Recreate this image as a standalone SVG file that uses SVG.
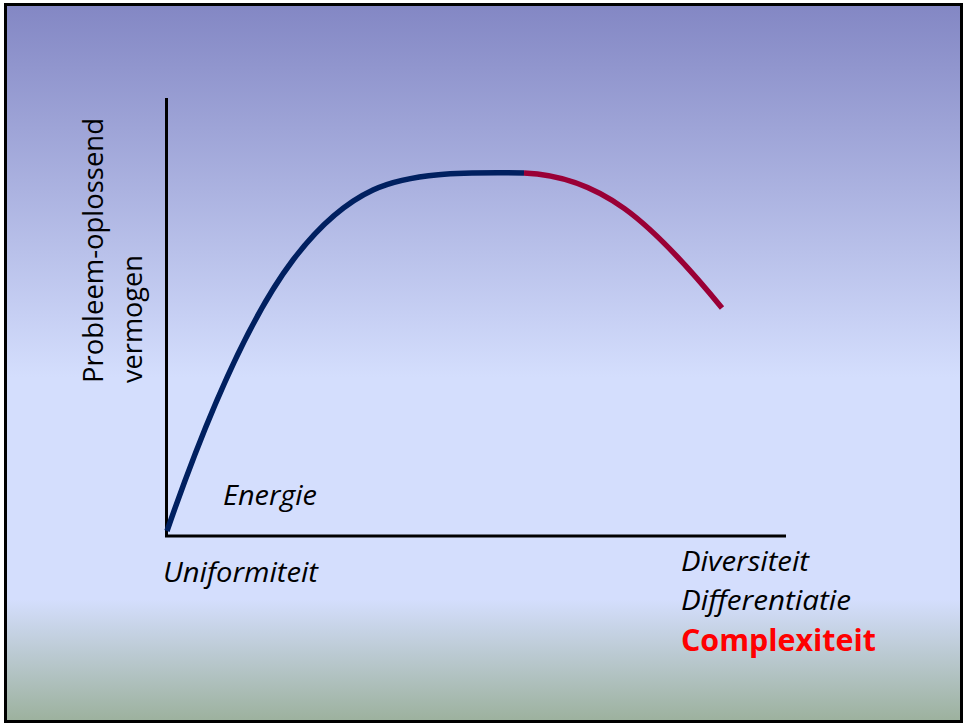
<svg xmlns="http://www.w3.org/2000/svg" width="963" height="724" viewBox="0 0 963 724">
  <defs>
    <linearGradient id="bg" x1="0" y1="0" x2="0" y2="1">
      <stop offset="0" stop-color="#8387C4"/>
      <stop offset="0.52" stop-color="#D4DEFD"/>
      <stop offset="0.83" stop-color="#D4DEFD"/>
      <stop offset="1" stop-color="#9CB19D"/>
    </linearGradient>
  </defs>
  <style>
    .axis { stroke: #000; stroke-width: 3; fill: none; }
    .curve { fill: none; stroke-width: 5.5; }
    .lbl { font-family: "Open Sans", "Liberation Sans", sans-serif; font-size: 28px; fill: #000; }
    .it { font-style: italic; }
  </style>
  <rect id="frame" x="5.5" y="4.5" width="956" height="717" fill="url(#bg)" stroke="#000" stroke-width="3"/>
  <g id="axes">
    <line class="axis" x1="166.5" y1="98" x2="166.5" y2="536"/>
    <line class="axis" x1="165" y1="536" x2="786" y2="536"/>
  </g>
  <g id="connectors">
    <path id="curve-blue" class="curve" stroke="#002060" d="M167,531 C195,450 240,330 293,260 C318,227 345,203 373,190 C410,173 460,172 524,173"/>
    <path id="curve-red" class="curve" stroke="#9A0036" d="M524,173 C600,176 650,220 722,308"/>
  </g>
  <g id="ylabel">
    <text class="lbl" transform="translate(103,383) rotate(-90)" textLength="265" lengthAdjust="spacingAndGlyphs">Probleem-oplossend</text>
    <text class="lbl" transform="translate(142,383) rotate(-90)" textLength="128" lengthAdjust="spacingAndGlyphs">vermogen</text>
  </g>
  <g id="energie"><text class="lbl it" x="223" y="505" textLength="94" lengthAdjust="spacingAndGlyphs">Energie</text></g>
  <g id="uniformiteit"><text class="lbl it" x="163" y="582" textLength="155" lengthAdjust="spacingAndGlyphs">Uniformiteit</text></g>
  <g id="diversiteit"><text class="lbl it" x="681" y="571" textLength="128" lengthAdjust="spacingAndGlyphs">Diversiteit</text></g>
  <g id="differentiatie"><text class="lbl it" x="681" y="610" textLength="170" lengthAdjust="spacingAndGlyphs">Differentiatie</text></g>
  <g id="complexiteit"><text class="lbl" x="681" y="651" font-weight="bold" fill="#FF0000" style="fill:#FF0000;font-size:30px" textLength="195" lengthAdjust="spacingAndGlyphs">Complexiteit</text></g>
</svg>
